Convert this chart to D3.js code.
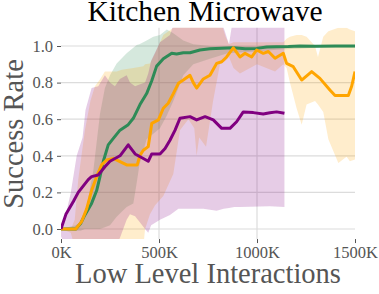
<!DOCTYPE html>
<html lang="en">
<head>
<meta charset="UTF-8">
<title>Kitchen Microwave</title>
<script src="https://d3js.org/d3.v7.min.js"></script>
<style>
  body { margin: 0; background: #fff; }
  svg text { font-family: "Liberation Serif", "Times New Roman", serif !important; }
</style>
</head>
<body>
<script>
// x in thousands of interactions
const xTicks = [0, 500, 1000, 1500];
const yTicks = [0, 0.2, 0.4, 0.6, 0.8, 1.0];

// green run: mean line
const greenX = [0, 75, 100, 122, 156, 182, 199, 216, 241, 267, 301, 343, 369, 403, 437, 463, 488, 522, 565, 590, 624, 658, 709, 760, 820, 879, 940, 998, 1050, 1100, 1160, 1219, 1300, 1400, 1500];
const greenY = [0, 0, 0.03, 0.077, 0.14, 0.21, 0.286, 0.37, 0.46, 0.495, 0.54, 0.57, 0.605, 0.68, 0.74, 0.81, 0.89, 0.93, 0.96, 0.956, 0.963, 0.963, 0.978, 0.985, 0.988, 0.99, 0.985, 0.987, 0.995, 0.996, 0.997, 1.0, 0.998, 1.0, 1.0];
// green run: band
const greenBandX = [0, 75, 100, 122, 165, 199, 224, 250, 284, 335, 369, 386, 400, 437, 471, 505, 540, 573, 624, 675, 760, 850, 1000, 1100, 1300, 1500];
const greenLo = [0, -0.01, -0.01, 0, 0, 0, 0.01, 0.02, 0.067, 0.12, 0.14, 0.25, 0.35, 0.49, 0.52, 0.55, 0.62, 0.70, 0.84, 0.90, 0.93, 0.96, 0.97, 0.98, 0.99, 0.99];
const greenHi = [0, 0.02, 0.04, 0.07, 0.32, 0.63, 0.77, 0.84, 0.905, 0.96, 0.99, 1.005, 1.01, 1.03, 1.05, 1.06, 1.09, 1.07, 1.03, 1.01, 1.0, 1.0, 1.0, 1.005, 1.005, 1.005];

// orange run
const orangeX = [0, 75, 105, 131, 156, 182, 207, 233, 267, 301, 335, 369, 389, 402, 420, 445, 463, 497, 522, 547, 573, 599, 624, 658, 675, 692, 726, 760, 794, 820, 845, 879, 913, 939, 973, 998, 1032, 1058, 1092, 1134, 1151, 1185, 1228, 1279, 1321, 1372, 1398, 1466, 1483, 1500];
const orangeY = [0, 0, 0.04, 0.11, 0.21, 0.286, 0.35, 0.377, 0.386, 0.368, 0.35, 0.35, 0.35, 0.4, 0.43, 0.45, 0.577, 0.596, 0.66, 0.687, 0.74, 0.796, 0.814, 0.84, 0.80, 0.77, 0.82, 0.84, 0.905, 0.914, 0.94, 0.99, 0.94, 0.96, 0.94, 0.978, 0.96, 0.97, 0.933, 0.96, 0.905, 0.887, 0.814, 0.86, 0.823, 0.76, 0.73, 0.73, 0.78, 0.86];
const orangeBandX = [0, 50, 70, 88, 122, 150, 173, 200, 224, 250, 284, 310, 369, 420, 429, 454, 480, 522, 573, 607, 650, 680, 692, 705, 740, 776, 811, 840, 857, 880, 913, 1000, 1092, 1134, 1151, 1168, 1202, 1228, 1253, 1296, 1311, 1338, 1364, 1415, 1457, 1474, 1500];
const orangeLo = [0, -0.02, -0.1, -0.1, -0.1, -0.1, -0.1, -0.1, -0.1, -0.1, -0.1, -0.1, -0.1, -0.1, 0, 0.08, 0.13, 0.18, 0.30, 0.54, 0.60, 0.55, 0.40, 0.50, 0.45, 0.70, 0.90, 0.92, 0.94, 0.88, 0.85, 0.90, 0.86, 0.90, 0.88, 0.80, 0.66, 0.57, 0.68, 0.70, 0.68, 0.64, 0.49, 0.36, 0.395, 0.37, 0.38];
const orangeHi = [0, 0, 0.05, 0.27, 0.54, 0.70, 0.78, 0.82, 0.86, 0.86, 0.86, 0.87, 0.88, 0.89, 0.90, 0.905, 0.96, 1.06, 1.10, 1.2, 1.2, 1.2, 1.2, 1.2, 1.2, 1.2, 1.15, 1.05, 1.01, 1.02, 1.02, 1.02, 1.02, 1.02, 1.04, 1.05, 1.06, 1.06, 1.05, 1.0, 0.94, 1.05, 1.08, 1.1, 1.1, 1.09, 1.08];

// purple run
const purpleX = [0, 25, 63, 88, 139, 156, 190, 224, 250, 301, 343, 378, 420, 445, 463, 505, 531, 556, 582, 607, 658, 692, 735, 777, 820, 862, 896, 930, 981, 1032, 1066, 1100, 1140];
const purpleY = [0, 0.08, 0.15, 0.2, 0.27, 0.286, 0.295, 0.34, 0.37, 0.40, 0.46, 0.41, 0.385, 0.37, 0.41, 0.41, 0.44, 0.485, 0.54, 0.605, 0.614, 0.596, 0.614, 0.596, 0.55, 0.55, 0.586, 0.64, 0.636, 0.628, 0.635, 0.64, 0.632];
const purpleBandX = [0, 25, 50, 80, 110, 125, 156, 190, 224, 250, 275, 300, 335, 352, 378, 400, 429, 445, 460, 505, 556, 599, 726, 794, 830, 857, 885, 913, 1066, 1140];
const purpleLo = [-0.04, -0.1, -0.1, -0.1, -0.1, -0.1, -0.1, -0.1, -0.1, -0.1, -0.1, -0.05, 0.05, 0.08, 0.07, 0.04, 0, -0.02, 0.02, 0.05, 0.077, 0.11, 0.11, 0.10, 0.11, 0.115, 0.12, 0.12, 0.125, 0.12];
const purpleHi = [0.02, 0.08, 0.2, 0.4, 0.5, 0.65, 0.77, 0.78, 0.84, 0.80, 0.78, 0.82, 0.84, 0.80, 0.78, 0.79, 0.80, 0.85, 0.92, 1.02, 1.06, 1.2, 1.2, 1.2, 1.1, 1.01, 1.2, 1.2, 1.2, 1.2];

const W = 379, H = 294;
const serif = "'Liberation Serif', 'Times New Roman', serif";
const svg = d3.select("body").append("svg").attr("width", W).attr("height", H);

const x = d3.scaleLinear().domain([0, 1500]).range([61, 355]);
const y = d3.scaleLinear().domain([0, 1]).range([229, 46]);
const yMin = -0.055, yMax = 1.1;

svg.append("defs").append("clipPath").attr("id", "plot")
  .append("rect")
  .attr("x", x(0)).attr("y", y(yMax))
  .attr("width", x(1500) - x(0)).attr("height", y(yMin) - y(yMax));

// grid
svg.append("g").selectAll("line").data(yTicks).join("line")
  .attr("x1", x(0)).attr("x2", x(1500))
  .attr("y1", d => y(d)).attr("y2", d => y(d))
  .attr("stroke", "#dcdcdc").attr("stroke-width", 1.2);
svg.append("g").selectAll("line").data(xTicks.slice(1, 3)).join("line")
  .attr("x1", d => x(d)).attr("x2", d => x(d))
  .attr("y1", y(yMax)).attr("y2", y(yMin))
  .attr("stroke", "#dcdcdc").attr("stroke-width", 1.2);

const series = [
  { c: "#2e8b57", xs: greenX, ys: greenY, bx: greenBandX, lo: greenLo, hi: greenHi },
  { c: "#ffa500", xs: orangeX, ys: orangeY, bx: orangeBandX, lo: orangeLo, hi: orangeHi },
  { c: "#800080", xs: purpleX, ys: purpleY, bx: purpleBandX, lo: purpleLo, hi: purpleHi }
];

const plot = svg.append("g").attr("clip-path", "url(#plot)");

const area = d3.area().x(d => x(d[0])).y0(d => y(d[1])).y1(d => y(d[2]));
const line = d3.line().x(d => x(d[0])).y(d => y(d[1]));

series.forEach(s => {
  plot.append("path")
    .attr("d", area(s.bx.map((v, i) => [v, s.lo[i], s.hi[i]])))
    .attr("fill", s.c).attr("fill-opacity", 0.2);
});
series.forEach(s => {
  plot.append("path")
    .attr("d", line(s.xs.map((v, i) => [v, s.ys[i]])))
    .attr("fill", "none").attr("stroke", s.c)
    .attr("stroke-width", 3).attr("stroke-linejoin", "round");
});

// axes
const xAxis = svg.append("g").attr("transform", `translate(0,${y(yMin)})`)
  .call(d3.axisBottom(x).tickValues(xTicks).tickFormat(d => d + "K").tickSize(4).tickPadding(3));
const yAxis = svg.append("g").attr("transform", `translate(${x(0)},0)`)
  .call(d3.axisLeft(y).tickValues(yTicks).tickFormat(d3.format(".1f")).tickSize(4).tickPadding(4));
[xAxis, yAxis].forEach(a => {
  a.attr("font-family", serif).attr("font-size", 16.5);
  a.select(".domain").remove();
  a.selectAll(".tick line").attr("stroke", "#555");
  a.selectAll("text").attr("fill", "#555").style("font-family", serif).style("font-size", "16.5px");
});

svg.append("text").attr("x", 205).attr("y", 21).attr("text-anchor", "middle")
  .style("font-family", serif).style("font-size", "29.5px").attr("fill", "#000").text("Kitchen Microwave");
svg.append("text").attr("x", 208).attr("y", 283).attr("text-anchor", "middle")
  .style("font-family", serif).style("font-size", "28.5px").attr("fill", "#555").text("Low Level Interactions");
svg.append("text").attr("transform", "translate(23,134) rotate(-90)").attr("text-anchor", "middle")
  .style("font-family", serif).style("font-size", "28.5px").attr("fill", "#555").text("Success Rate");
</script>
</body>
</html>
